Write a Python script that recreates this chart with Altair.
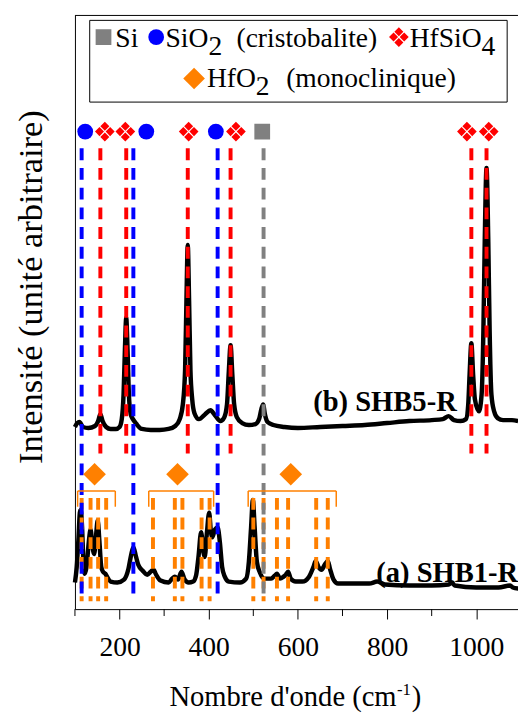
import altair as alt
import pandas as pd

# ---------------- data ----------------
# (b) SHB5-R spectrum: wavenumber (cm-1), intensity (arbitrary units)
wn_b = [100, 105, 110, 118, 130, 145, 152, 157, 162, 170, 180, 192, 200, 205, 209, 212, 215, 218, 221, 225,
        230, 238, 250, 270, 290, 310, 325, 335, 342, 347, 350, 353, 356, 359, 363, 368, 378, 392, 404, 414,
        426, 435, 441, 445, 449, 453, 457, 463, 475, 490, 505, 513, 518, 522, 526, 532, 545, 570, 600, 650,
        700, 750, 800, 850, 900, 925, 938, 950, 965, 977, 982, 985, 989, 993, 997, 1006, 1012, 1016, 1019,
        1023, 1027, 1030, 1034, 1040, 1048, 1060, 1080, 1094]
int_b = [185, 189, 190, 185, 184, 186, 191, 198, 191, 185, 183, 183, 185, 193, 218, 263, 296, 263, 218, 198,
         193, 188, 183, 182, 182, 183, 186, 193, 208, 243, 313, 370, 313, 243, 213, 199, 193, 198, 202, 197,
         191, 195, 208, 241, 268, 238, 208, 195, 189, 187, 188, 193, 203, 208, 198, 190, 187, 185, 184, 185,
         186, 187, 189, 191, 192, 193, 196, 192, 191, 193, 208, 238, 270, 238, 213, 201, 218, 283, 373,
         448, 373, 283, 218, 201, 194, 192, 192, 191]

# (a) SHB1-R spectrum
wn_a = [100, 104, 108, 111, 113, 116, 119, 122, 126, 131, 135, 139, 143, 147, 151, 155, 159, 163, 168, 172,
        180, 195, 210, 220, 226, 231, 236, 242, 252, 262, 270, 276, 282, 292, 310, 318, 324, 331, 339, 346,
        355, 365, 372, 377, 383, 388, 391, 396, 401, 405, 408, 414, 420, 425, 430, 436, 445, 470, 484, 490,
        495, 499, 503, 508, 515, 525, 540, 548, 553, 560, 568, 573, 578, 584, 595, 610, 625, 635, 640, 646,
        653, 660, 667, 672, 680, 690, 720, 760, 778, 795, 850, 900, 938, 945, 952, 1000, 1050, 1076, 1082, 1094]
int_a = [27, 43, 73, 98, 101, 83, 48, 36, 43, 68, 81, 65, 56, 73, 90, 68, 43, 38, 36, 33,
         28, 27, 30, 41, 55, 63, 55, 45, 39, 35, 38, 40, 35, 29, 27, 31, 33, 30, 38, 30,
         27, 28, 35, 53, 78, 58, 53, 78, 98, 78, 73, 81, 83, 68, 43, 33, 28, 27, 31, 48,
         83, 111, 83, 48, 37, 31, 31, 34, 36, 31, 33, 35, 38, 31, 28, 28, 33, 43, 49, 43,
         40, 45, 49, 41, 30, 26, 26, 26, 28, 25, 24, 24, 25, 27, 24, 22, 22, 24, 22, 21]

# reference band positions (cm-1)
hfsio4_lines = [157, 215, 353, 449, 989, 1023]
sio2_lines = [115, 231, 420]
si_lines = [523]
hfo2_lines = [115, 135, 152, 170, 275, 324, 341, 384, 402, 500, 523, 553, 578, 641, 667]

# phase markers (cm-1)
sio2_marks = [123, 260, 416]
hfsio4_marks = [167, 213, 355, 461, 979, 1028]
si_marks = [520]
hfo2_marks = [144, 330, 584]
hfo2_group_start = [106, 265.5, 488.5]
hfo2_group_end = [190.5, 411, 686]

major_ticks = [200, 400, 600, 800, 1000]
minor_ticks = [100, 300, 500, 700, 900]

label_b = ["(b) SHB5-R"]
label_a = ["(a) SHB1-R"]
y_title = ["Intensité (unité arbitraire)"]
x_title = ["Nombre d'onde (cm", "-1", ")"]
legend_si = ["Si"]
legend_sio2 = ["SiO", "2", "(cristobalite)"]
legend_hfsio4 = ["HfSiO", "4"]
legend_hfo2 = ["HfO", "2", "(monoclinique)"]

# ---------------- styling ----------------
FONT = "Liberation Serif"
BLUE, RED, GRAY, ORANGE = "#0000ff", "#ff0000", "#808080", "#ff8000"
HAFNON = ("M0,-0.96L0.44,-0.52L0,-0.08L-0.44,-0.52Z "
          "M0.96,0L0.52,0.44L0.08,0L0.52,-0.44Z "
          "M0,0.96L0.44,0.52L0,0.08L-0.44,0.52Z "
          "M-0.96,0L-0.52,0.44L-0.08,0L-0.52,-0.44Z")

W, H = 450, 603
x_scale = alt.Scale(domain=[100, 1093.6], nice=False, zero=False)
y_scale = alt.Scale(domain=[0, 603], nice=False, zero=True)
x_axis = alt.Axis(title=None, values=major_ticks, format="d", grid=False, tickSize=10, tickWidth=1,
                  tickColor="black", domainColor="black", domainWidth=1, labelFont=FONT, labelFontSize=28,
                  labelColor="black", labelPadding=15, labelOverlap=False)
y_axis = alt.Axis(title=None, labels=False, ticks=False, grid=False, domainColor="black", domainWidth=1)

X = alt.X("wn:Q", scale=x_scale, axis=x_axis)


def col(vals):
    return pd.DataFrame({"wn": vals})


def txt(value, x, y, size=28, bold=False, align="left", angle=0, color="black"):
    kw = dict(font=FONT, fontSize=size, fontWeight="bold" if bold else "normal", align=align,
              baseline="alphabetic", color=color)
    if angle:
        kw["angle"] = angle
    return alt.Chart(pd.DataFrame({"t": [value]})).mark_text(**kw).encode(
        x=alt.value(x), y=alt.value(y), text="t:N")


spec_b = alt.Chart(pd.DataFrame({"wn": wn_b, "I": int_b})).mark_line(
    color="black", strokeWidth=4.5, interpolate="monotone", strokeJoin="round").encode(
    x=X, y=alt.Y("I:Q", scale=y_scale, axis=y_axis))
spec_a = alt.Chart(pd.DataFrame({"wn": wn_a, "I": int_a})).mark_line(
    color="black", strokeWidth=4.5, interpolate="monotone", strokeJoin="round").encode(
    x=X, y=alt.Y("I:Q", scale=y_scale, axis=y_axis))

dash = [12, 8]
orange_rules = alt.Chart(col(hfo2_lines)).mark_rule(color=ORANGE, strokeWidth=4, strokeDash=dash).encode(
    x=X, y=alt.value(490), y2=alt.value(595))
blue_rules = alt.Chart(col(sio2_lines)).mark_rule(color=BLUE, strokeWidth=4, strokeDash=dash).encode(
    x=X, y=alt.value(135), y2=alt.value(595))
gray_rules = alt.Chart(col(si_lines)).mark_rule(color=GRAY, strokeWidth=4, strokeDash=dash).encode(
    x=X, y=alt.value(135), y2=alt.value(595))
red_rules = alt.Chart(col(hfsio4_lines)).mark_rule(color=RED, strokeWidth=4, strokeDash=dash).encode(
    x=X, y=alt.value(135), y2=alt.value(445))

m_sio2 = alt.Chart(col(sio2_marks)).mark_point(shape="circle", filled=True, size=256, color=BLUE,
                                               opacity=1, strokeWidth=0).encode(x=X, y=alt.value(118))
m_hfsio4 = alt.Chart(col(hfsio4_marks)).mark_point(shape=HAFNON, filled=True, size=433, color=RED,
                                                   opacity=1, strokeWidth=0).encode(x=X, y=alt.value(118))
m_si = alt.Chart(col(si_marks)).mark_point(shape="square", filled=True, size=256, color=GRAY,
                                           opacity=1, strokeWidth=0).encode(x=X, y=alt.value(118))
m_hfo2 = alt.Chart(col(hfo2_marks)).mark_point(shape="diamond", filled=True, size=529, color=ORANGE,
                                               opacity=1, strokeWidth=0).encode(x=X, y=alt.value(466))

brackets_h = alt.Chart(pd.DataFrame({"wn": hfo2_group_start, "wn2": hfo2_group_end})).mark_rule(
    color=ORANGE, strokeWidth=1.5).encode(x=X, x2="wn2:Q", y=alt.value(483))
brackets_v = alt.Chart(col(hfo2_group_start + hfo2_group_end)).mark_rule(
    color=ORANGE, strokeWidth=1.5).encode(x=X, y=alt.value(483), y2=alt.value(499))

minor = alt.Chart(col(minor_ticks)).mark_rule(color="black", strokeWidth=1).encode(
    x=X, y=alt.value(603), y2=alt.value(610))
top_frame = alt.Chart(col([100])).mark_rule(color="black", strokeWidth=1).encode(
    x=alt.value(0), x2=alt.value(W), y=alt.value(0))

# legend box and entries (plot-area pixel positions)
leg_box = alt.Chart(col([0])).mark_rect(fill="white", stroke="black", strokeWidth=1).encode(
    x=alt.value(15), x2=alt.value(439), y=alt.value(5), y2=alt.value(88))
leg_si = alt.Chart(col([0])).mark_point(shape="square", filled=True, size=256, color=GRAY, opacity=1,
                                        strokeWidth=0).encode(x=alt.value(29), y=alt.value(22))
leg_sio2 = alt.Chart(col([0])).mark_point(shape="circle", filled=True, size=256, color=BLUE, opacity=1,
                                          strokeWidth=0).encode(x=alt.value(82.5), y=alt.value(22))
leg_hfsio4 = alt.Chart(col([0])).mark_point(shape=HAFNON, filled=True, size=433, color=RED, opacity=1,
                                            strokeWidth=0).encode(x=alt.value(329), y=alt.value(22))
leg_hfo2 = alt.Chart(col([0])).mark_point(shape="diamond", filled=True, size=484, color=ORANGE, opacity=1,
                                          strokeWidth=0).encode(x=alt.value(121), y=alt.value(64))

texts = [
    txt(legend_si[0], 41, 32),
    txt(legend_sio2[0], 92, 32), txt(legend_sio2[1], 135.6, 40), txt(legend_sio2[2], 307, 32, align="right"),
    txt(legend_hfsio4[0], 340, 32), txt(legend_hfsio4[1], 413, 40),
    txt(legend_hfo2[0], 134, 73), txt(legend_hfo2[1], 183.7, 81), txt(legend_hfo2[2], 387, 73, align="right"),
    txt(label_b[0], 242, 402, size=29, bold=True),
    txt(label_a[0], 306, 575, size=29, bold=True),
    txt(y_title[0], -33, 276, size=35, align="center", angle=270),
    txt(x_title[0], 96, 701, size=29), txt(x_title[1], 327, 690, size=17), txt(x_title[2], 342, 701, size=29),
]

chart = alt.layer(
    spec_b, spec_a,
    orange_rules, blue_rules, gray_rules, red_rules,
    brackets_h, brackets_v,
    m_sio2, m_hfsio4, m_si, m_hfo2,
    minor, top_frame,
    leg_box, leg_si, leg_sio2, leg_hfsio4, leg_hfo2,
    *texts,
).properties(
    width=W, height=H,
    autosize=alt.AutoSizeParams(type="none"),
    padding={"left": 68, "top": 2, "right": 0, "bottom": 104},
).configure_view(stroke=None).resolve_scale(x="shared", y="shared")

chart.save("out.html", embed_options={"renderer": "svg", "actions": False})
